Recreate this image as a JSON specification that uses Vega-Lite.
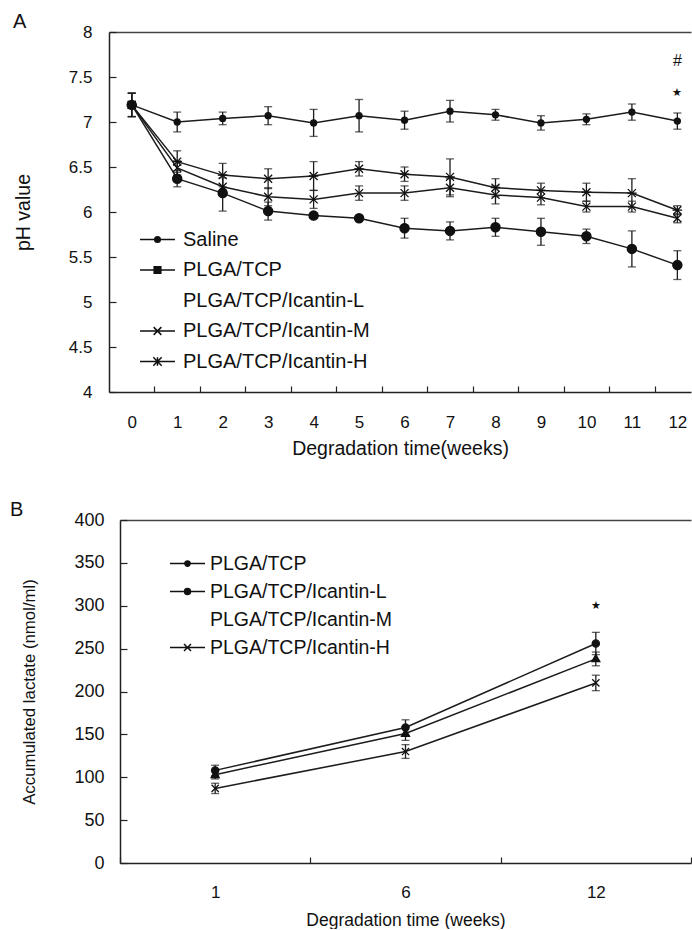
{
  "$schema": "https://vega.github.io/schema/vega-lite/v6.json",
  "padding": {"left": 10, "top": 12, "right": 0, "bottom": 0},
  "config": {
    "font": "Liberation Sans",
    "view": {"stroke": null},
    "axis": {"labelFont": "Liberation Sans", "labelFontSize": 17, "labelColor": "#111", "titleFont": "Liberation Sans", "titleFontSize": 16, "titleFontWeight": "normal", "titleColor": "#111", "domainColor": "#222", "tickColor": "#222", "domainWidth": 1.5, "tickWidth": 1.2, "grid": false},
    "legend": {"labelFont": "Liberation Sans", "labelFontSize": 18, "labelColor": "#111", "labelLimit": 0},
    "title": {"font": "Liberation Sans", "fontSize": 20, "fontWeight": "normal", "color": "#111"}
  },
  "datasets": {
    "phA": [
      {"week": 0, "group": "Saline", "ph": 7.19, "sd": 0.13},
      {"week": 1, "group": "Saline", "ph": 7.00, "sd": 0.11},
      {"week": 2, "group": "Saline", "ph": 7.04, "sd": 0.07},
      {"week": 3, "group": "Saline", "ph": 7.07, "sd": 0.10},
      {"week": 4, "group": "Saline", "ph": 6.99, "sd": 0.15},
      {"week": 5, "group": "Saline", "ph": 7.07, "sd": 0.18},
      {"week": 6, "group": "Saline", "ph": 7.02, "sd": 0.10},
      {"week": 7, "group": "Saline", "ph": 7.12, "sd": 0.12},
      {"week": 8, "group": "Saline", "ph": 7.08, "sd": 0.06},
      {"week": 9, "group": "Saline", "ph": 6.99, "sd": 0.08},
      {"week": 10, "group": "Saline", "ph": 7.03, "sd": 0.06},
      {"week": 11, "group": "Saline", "ph": 7.11, "sd": 0.09},
      {"week": 12, "group": "Saline", "ph": 7.01, "sd": 0.09},
      {"week": 0, "group": "PLGA/TCP", "ph": 7.19, "sd": 0.13},
      {"week": 1, "group": "PLGA/TCP", "ph": 6.37, "sd": 0.09},
      {"week": 2, "group": "PLGA/TCP", "ph": 6.21, "sd": 0.2},
      {"week": 3, "group": "PLGA/TCP", "ph": 6.01, "sd": 0.1},
      {"week": 4, "group": "PLGA/TCP", "ph": 5.96, "sd": 0.03},
      {"week": 5, "group": "PLGA/TCP", "ph": 5.93, "sd": 0.03},
      {"week": 6, "group": "PLGA/TCP", "ph": 5.82, "sd": 0.11},
      {"week": 7, "group": "PLGA/TCP", "ph": 5.79, "sd": 0.1},
      {"week": 8, "group": "PLGA/TCP", "ph": 5.83, "sd": 0.1},
      {"week": 9, "group": "PLGA/TCP", "ph": 5.78, "sd": 0.15},
      {"week": 10, "group": "PLGA/TCP", "ph": 5.73, "sd": 0.08},
      {"week": 11, "group": "PLGA/TCP", "ph": 5.59, "sd": 0.2},
      {"week": 12, "group": "PLGA/TCP", "ph": 5.41, "sd": 0.16},
      {"week": 0, "group": "PLGA/TCP/Icantin-M", "ph": 7.19, "sd": 0.13},
      {"week": 1, "group": "PLGA/TCP/Icantin-M", "ph": 6.49, "sd": 0.08},
      {"week": 2, "group": "PLGA/TCP/Icantin-M", "ph": 6.28, "sd": 0.1},
      {"week": 3, "group": "PLGA/TCP/Icantin-M", "ph": 6.17, "sd": 0.1},
      {"week": 4, "group": "PLGA/TCP/Icantin-M", "ph": 6.14, "sd": 0.1},
      {"week": 5, "group": "PLGA/TCP/Icantin-M", "ph": 6.21, "sd": 0.08},
      {"week": 6, "group": "PLGA/TCP/Icantin-M", "ph": 6.21, "sd": 0.08},
      {"week": 7, "group": "PLGA/TCP/Icantin-M", "ph": 6.27, "sd": 0.1},
      {"week": 8, "group": "PLGA/TCP/Icantin-M", "ph": 6.19, "sd": 0.1},
      {"week": 9, "group": "PLGA/TCP/Icantin-M", "ph": 6.16, "sd": 0.08},
      {"week": 10, "group": "PLGA/TCP/Icantin-M", "ph": 6.06, "sd": 0.06},
      {"week": 11, "group": "PLGA/TCP/Icantin-M", "ph": 6.06, "sd": 0.06},
      {"week": 12, "group": "PLGA/TCP/Icantin-M", "ph": 5.93, "sd": 0.05},
      {"week": 0, "group": "PLGA/TCP/Icantin-H", "ph": 7.19, "sd": 0.13},
      {"week": 1, "group": "PLGA/TCP/Icantin-H", "ph": 6.56, "sd": 0.12},
      {"week": 2, "group": "PLGA/TCP/Icantin-H", "ph": 6.41, "sd": 0.13},
      {"week": 3, "group": "PLGA/TCP/Icantin-H", "ph": 6.37, "sd": 0.11},
      {"week": 4, "group": "PLGA/TCP/Icantin-H", "ph": 6.40, "sd": 0.16},
      {"week": 5, "group": "PLGA/TCP/Icantin-H", "ph": 6.48, "sd": 0.08},
      {"week": 6, "group": "PLGA/TCP/Icantin-H", "ph": 6.42, "sd": 0.08},
      {"week": 7, "group": "PLGA/TCP/Icantin-H", "ph": 6.39, "sd": 0.2},
      {"week": 8, "group": "PLGA/TCP/Icantin-H", "ph": 6.27, "sd": 0.1},
      {"week": 9, "group": "PLGA/TCP/Icantin-H", "ph": 6.24, "sd": 0.08},
      {"week": 10, "group": "PLGA/TCP/Icantin-H", "ph": 6.22, "sd": 0.1},
      {"week": 11, "group": "PLGA/TCP/Icantin-H", "ph": 6.21, "sd": 0.16},
      {"week": 12, "group": "PLGA/TCP/Icantin-H", "ph": 6.02, "sd": 0.05}
    ],
    "annA": [
      {"week": 12, "ph": 7.68, "label": "#", "size": 16},
      {"week": 12, "ph": 7.32, "label": "★", "size": 11}
    ],
    "lacB": [
      {"week": 1, "group": "PLGA/TCP", "lac": 108, "sd": 6},
      {"week": 6, "group": "PLGA/TCP", "lac": 158, "sd": 9},
      {"week": 12, "group": "PLGA/TCP", "lac": 256, "sd": 13},
      {"week": 1, "group": "PLGA/TCP/Icantin-L", "lac": 103, "sd": 5},
      {"week": 6, "group": "PLGA/TCP/Icantin-L", "lac": 151, "sd": 8},
      {"week": 12, "group": "PLGA/TCP/Icantin-L", "lac": 238, "sd": 8},
      {"week": 1, "group": "PLGA/TCP/Icantin-H", "lac": 87, "sd": 6},
      {"week": 6, "group": "PLGA/TCP/Icantin-H", "lac": 130, "sd": 8},
      {"week": 12, "group": "PLGA/TCP/Icantin-H", "lac": 210, "sd": 9}
    ],
    "annB": [
      {"week": 12, "lac": 300, "label": "★"}
    ]
  },
  "columns": 1,
  "align": "none",
  "spacing": 42,
  "concat": [
    {
      "title": {"text": "A", "anchor": "start", "frame": "group", "dx": -96, "offset": -9},
      "width": 582,
      "height": 360,
      "data": {"name": "phA"},
      "layer": [
        {
          "mark": {"type": "line", "color": "#1c1c1c", "strokeWidth": 1.5},
          "encoding": {
            "x": {"field": "week", "type": "quantitative", "scale": {"domain": [-0.5, 12.3], "nice": false, "zero": false},
              "axis": {"values": [0, 1, 2, 3, 4, 5, 6, 7, 8, 9, 10, 11, 12], "ticks": false, "labelPadding": 22, "labelFlush": false, "labelOverlap": false, "title": "Degradation time(weeks)", "titleFontSize": 19.5, "titlePadding": 9}},
            "y": {"field": "ph", "type": "quantitative", "scale": {"domain": [4, 8], "nice": false, "zero": false},
              "axis": {"values": [4, 4.5, 5, 5.5, 6, 6.5, 7, 7.5, 8], "format": "~g", "tickSize": -7, "labelPadding": 24, "labelFlush": false, "labelOverlap": false, "title": "pH value", "titleFontSize": 19.5, "titlePadding": 35}},
            "detail": {"field": "group"}
          }
        },
        {
          "mark": {"type": "errorbar", "ticks": true, "size": 8, "thickness": 1.3, "color": "#1c1c1c"},
          "encoding": {
            "x": {"field": "week", "type": "quantitative", "axis": null},
            "y": {"field": "ph", "type": "quantitative", "axis": null},
            "yError": {"field": "sd"},
            "detail": {"field": "group"}
          }
        },
        {
          "mark": {"type": "point", "filled": true, "fill": "#111", "stroke": "#111", "strokeWidth": 1.3, "size": 64, "opacity": 1},
          "encoding": {
            "x": {"field": "week", "type": "quantitative",
              "axis": {"orient": "bottom", "values": [0.5, 1.5, 2.5, 3.5, 4.5, 5.5, 6.5, 7.5, 8.5, 9.5, 10.5, 11.5], "labels": false, "domain": false, "ticks": true, "tickSize": -6, "title": null}},
            "y": {"field": "ph", "type": "quantitative", "axis": null},
            "shape": {"field": "group", "type": "nominal",
              "scale": {"domain": ["Saline", "PLGA/TCP", "PLGA/TCP/Icantin-M", "PLGA/TCP/Icantin-H"],
                "range": ["M-0.75,0A0.75,0.75 0 1,0 0.75,0A0.75,0.75 0 1,0 -0.75,0Z", "M-1.15,0A1.15,1.15 0 1,0 1.15,0A1.15,1.15 0 1,0 -1.15,0Z", "M-1,-1L1,1M-1,1L1,-1", "M-1,-1L1,1M-1,1L1,-1M-1.2,0L1.2,0"]},
              "legend": null}
          }
        },
        {
          "transform": [{"filter": "false"}],
          "mark": {"type": "point", "filled": true, "fill": "#111", "stroke": "#111", "strokeWidth": 1.3, "size": 1225, "opacity": 1},
          "encoding": {
            "x": {"field": "week", "type": "quantitative", "axis": null},
            "y": {"field": "ph", "type": "quantitative", "axis": null},
            "shape": {"field": "group", "type": "nominal",
              "scale": {"domain": ["Saline", "PLGA/TCP", "PLGA/TCP/Icantin-L", "PLGA/TCP/Icantin-M", "PLGA/TCP/Icantin-H"],
                "range": ["M-1,0L1,0M-0.16,0A0.16,0.16 0 1,0 0.16,0A0.16,0.16 0 1,0 -0.16,0Z", "M-1,0L1,0M-0.19,-0.19L0.19,-0.19L0.19,0.19L-0.19,0.19Z", "M0,0", "M-1,0L1,0M-0.22,-0.22L0.22,0.22M-0.22,0.22L0.22,-0.22", "M-1,0L1,0M-0.24,-0.24L0.24,0.24M-0.24,0.24L0.24,-0.24M0,-0.24L0,0.24"]},
              "legend": {"title": null, "orient": "none", "legendX": 30, "legendY": 189, "symbolSize": 1225, "labelOffset": 7, "labelFontSize": 20, "rowPadding": 1.5, "padding": 0,
                "encode": {"symbols": {"update": {"stroke": {"value": "#111"}, "strokeWidth": {"value": 1.4}, "fill": {"value": "#111"}, "opacity": {"value": 1}}}}}}
          }
        },
        {
          "data": {"name": "annA"},
          "mark": {"type": "text", "color": "#111"},
          "encoding": {
            "x": {"field": "week", "type": "quantitative",
              "axis": {"orient": "top", "labels": false, "ticks": false, "domain": true, "title": null, "domainWidth": 1.3, "domainColor": "#444"}},
            "y": {"field": "ph", "type": "quantitative", "axis": null},
            "text": {"field": "label"},
            "size": {"field": "size", "type": "quantitative", "scale": null}
          }
        }
      ],
      "resolve": {"scale": {"shape": "independent"}, "axis": {"x": "independent", "y": "independent"}}
    },
    {
      "title": {"text": "B", "anchor": "start", "frame": "group", "dx": -99, "offset": -9},
      "width": 582,
      "height": 343,
      "data": {"name": "lacB"},
      "layer": [
        {
          "mark": {"type": "line", "color": "#1c1c1c", "strokeWidth": 1.5},
          "encoding": {
            "x": {"field": "week", "type": "ordinal", "scale": {"type": "band", "paddingInner": 0, "paddingOuter": 0, "range": [11, 582]},
              "axis": {"tickBand": "extent", "tickSize": -6, "labelPadding": 27, "labelAngle": 0, "title": "Degradation time (weeks)", "titleFontSize": 17.5, "titlePadding": 11}},
            "y": {"field": "lac", "type": "quantitative", "scale": {"domain": [0, 400], "nice": false},
              "axis": {"values": [0, 50, 100, 150, 200, 250, 300, 350, 400], "offset": -11, "tickSize": -7, "labelPadding": 23, "labelFontSize": 18, "labelFlush": false, "labelOverlap": false, "title": "Accumulated lactate (nmol/ml)", "titleFontSize": 16.8, "titlePadding": 35}},
            "detail": {"field": "group"}
          }
        },
        {
          "mark": {"type": "errorbar", "ticks": true, "size": 8, "thickness": 1.3, "color": "#1c1c1c"},
          "encoding": {
            "x": {"field": "week", "type": "ordinal", "axis": null},
            "y": {"field": "lac", "type": "quantitative", "axis": null},
            "yError": {"field": "sd"},
            "detail": {"field": "group"}
          }
        },
        {
          "mark": {"type": "point", "filled": true, "fill": "#111", "stroke": "#111", "strokeWidth": 1.3, "size": 64, "opacity": 1},
          "encoding": {
            "x": {"field": "week", "type": "ordinal", "axis": null},
            "y": {"field": "lac", "type": "quantitative", "axis": null},
            "shape": {"field": "group", "type": "nominal",
              "scale": {"domain": ["PLGA/TCP", "PLGA/TCP/Icantin-L", "PLGA/TCP/Icantin-H"],
                "range": ["M-0.9,0A0.9,0.9 0 1,0 0.9,0A0.9,0.9 0 1,0 -0.9,0Z", "M0,-1.1L1,0.7L-1,0.7Z", "M-0.9,-0.9L0.9,0.9M-0.9,0.9L0.9,-0.9"]},
              "legend": null}
          }
        },
        {
          "transform": [{"filter": "false"}],
          "mark": {"type": "point", "filled": true, "fill": "#111", "stroke": "#111", "strokeWidth": 1.3, "size": 1225, "opacity": 1},
          "encoding": {
            "x": {"field": "week", "type": "ordinal", "axis": null},
            "y": {"field": "lac", "type": "quantitative", "axis": null},
            "shape": {"field": "group", "type": "nominal",
              "scale": {"domain": ["PLGA/TCP", "PLGA/TCP/Icantin-L", "PLGA/TCP/Icantin-M", "PLGA/TCP/Icantin-H"],
                "range": ["M-1,0L1,0M-0.15,0A0.15,0.15 0 1,0 0.15,0A0.15,0.15 0 1,0 -0.15,0Z", "M-1,0L1,0M-0.17,0A0.17,0.17 0 1,0 0.17,0A0.17,0.17 0 1,0 -0.17,0Z", "M0,0", "M-1,0L1,0M-0.2,-0.2L0.2,0.2M-0.2,0.2L0.2,-0.2"]},
              "legend": {"title": null, "orient": "none", "legendX": 60, "legendY": 25, "symbolSize": 1225, "labelOffset": 4, "labelFontSize": 19.5, "rowPadding": -5, "padding": 0,
                "encode": {"symbols": {"update": {"stroke": {"value": "#111"}, "strokeWidth": {"value": 1.4}, "fill": {"value": "#111"}, "opacity": {"value": 1}}}}}}
          }
        },
        {
          "data": {"name": "annB"},
          "mark": {"type": "text", "color": "#111", "fontSize": 11},
          "encoding": {
            "x": {"field": "week", "type": "ordinal",
              "axis": {"orient": "top", "labels": false, "ticks": false, "domain": true, "title": null, "domainWidth": 1.3, "domainColor": "#444"}},
            "y": {"field": "lac", "type": "quantitative", "axis": null},
            "text": {"field": "label"}
          }
        }
      ],
      "resolve": {"scale": {"shape": "independent"}, "axis": {"x": "independent", "y": "independent"}}
    }
  ]
}
